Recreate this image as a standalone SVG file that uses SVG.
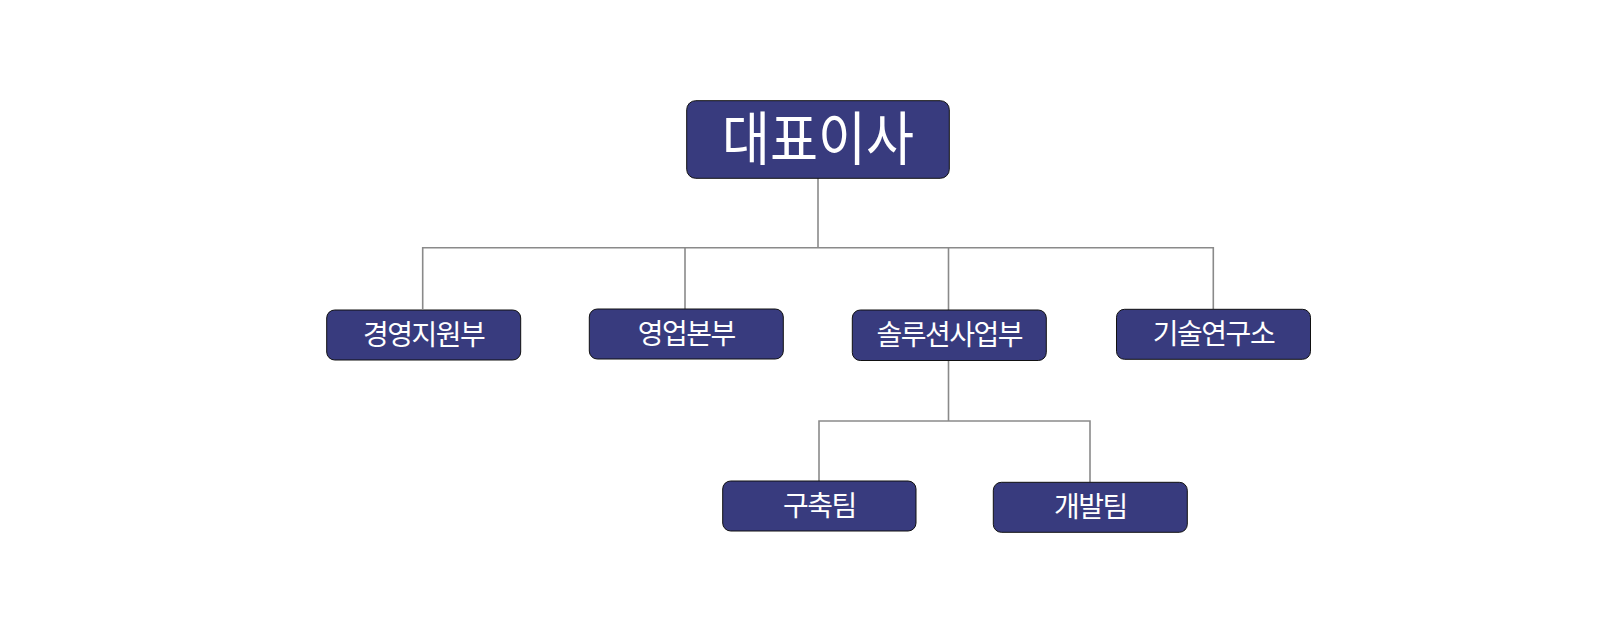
<svg xmlns="http://www.w3.org/2000/svg" width="1600" height="642" viewBox="0 0 1600 642">
<style>
.box{fill:#383b7e;stroke:#111;stroke-width:1}
.t{fill:#fff;font-family:"Noto Sans CJK KR","Noto Sans",sans-serif;text-anchor:middle;dominant-baseline:central;font-size:28px;letter-spacing:-1.5px}
.big{font-size:58px;letter-spacing:0px}
.c{fill:none;stroke:#8a8a8a;stroke-width:1.6}
</style>
<rect width="1600" height="642" fill="#fff"/>
<g id="connectors">
<path class="c" d="M818 178V247.7M422.7 309V247.7H1213.3V309M685 309V247.7M948.5 310V247.7"/>
<path class="c" d="M948.5 360V421M819 481V421H1090V482"/>
</g>
<g id="ceo"><rect class="box" x="686.7" y="100.7" width="262.6" height="77.6" rx="9"/><text class="t big" transform="translate(818 135) scale(0.9 1)">대표이사</text></g>
<g id="n1"><rect class="box" x="326.7" y="310" width="194" height="50" rx="8"/><text class="t" x="423.7" y="333">경영지원부</text></g>
<g id="n2"><rect class="box" x="589.3" y="309" width="194" height="50" rx="8"/><text class="t" x="686.3" y="332">영업본부</text></g>
<g id="n3"><rect class="box" x="852.3" y="310" width="194" height="50.5" rx="8"/><text class="t" x="949.3" y="333">솔루션사업부</text></g>
<g id="n4"><rect class="box" x="1116.5" y="309.3" width="194" height="50" rx="8"/><text class="t" x="1213.5" y="332">기술연구소</text></g>
<g id="n5"><rect class="box" x="722.7" y="481" width="193.3" height="50" rx="8"/><text class="t" x="819.3" y="504">구축팀</text></g>
<g id="n6"><rect class="box" x="993.3" y="482.3" width="194" height="50" rx="8"/><text class="t" x="1090.3" y="505">개발팀</text></g>
</svg>
